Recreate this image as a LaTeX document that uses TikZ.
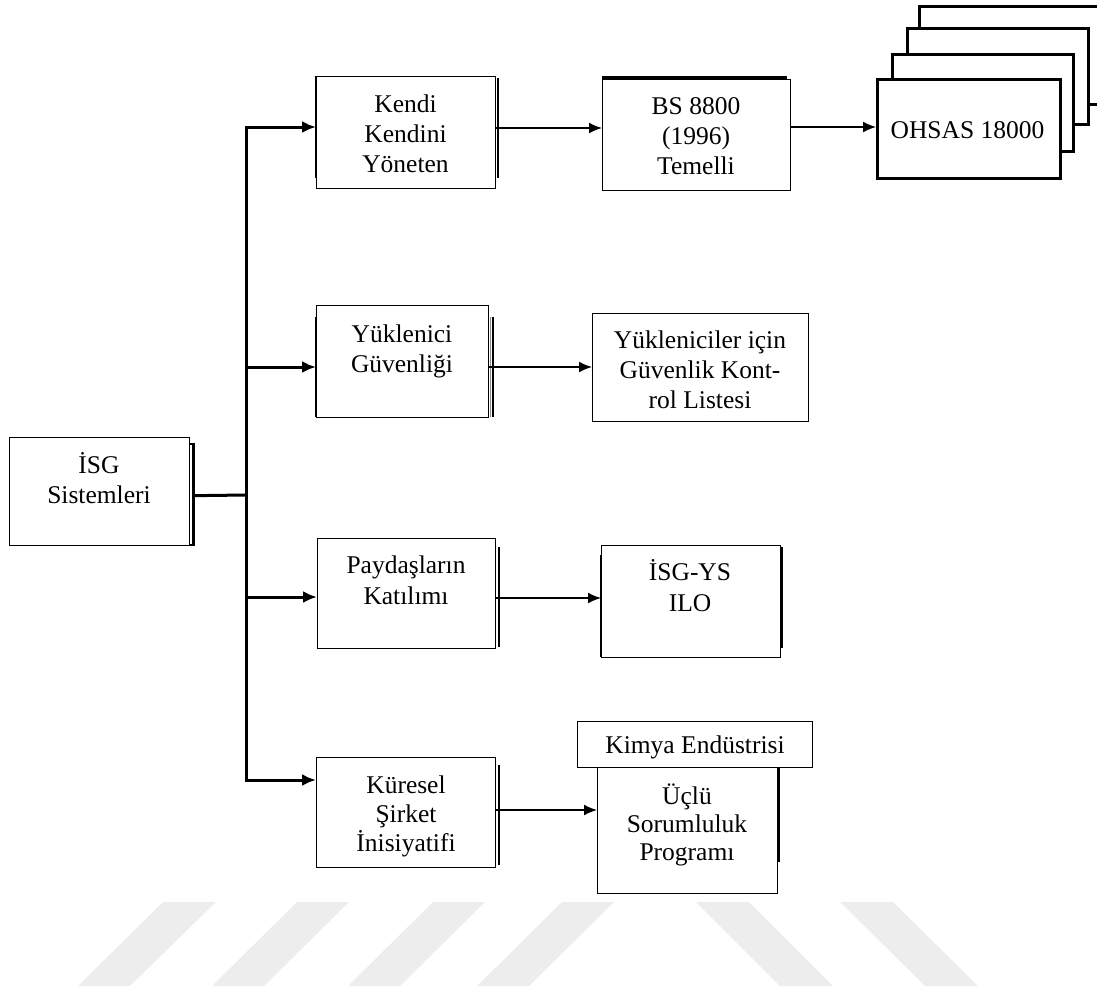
\documentclass[tikz,border=0pt]{standalone}
\usepackage{fontspec}
\setmainfont{Liberation Serif}
\usetikzlibrary{arrows.meta,calc}
\begin{document}
\begin{tikzpicture}[x=1pt,y=-1pt,
  box/.style={draw=black, line width=1.3pt, fill=white, inner sep=0pt, anchor=north west, rectangle},
  stackbox/.style={box, line width=3pt},
  txt/.style={align=center, inner sep=0pt, font=\fontsize{25.5}{30}\selectfont, anchor=base},
  thickln/.style={line width=3pt},
  shade/.style={line width=2.8pt},
  main/.style={line width=3pt, -{Latex[length=14pt,width=12pt]}},
  link/.style={line width=1.6pt, -{Latex[length=13pt,width=11pt]}},
  wm/.style={fill=black!7, draw=none}]
\useasboundingbox (0,0) rectangle (1097,986);

% watermark
\fill[wm] (163,902) -- (216,902) -- (130,986) -- (78,986) -- cycle;
\fill[wm] (297,902) -- (349,902) -- (264,986) -- (212,986) -- cycle;
\fill[wm] (433,902) -- (485,902) -- (400,986) -- (348,986) -- cycle;
\fill[wm] (562,902) -- (614,902) -- (529,986) -- (477,986) -- cycle;
\fill[wm] (696,902) -- (749,902) -- (833,986) -- (780,986) -- cycle;
\fill[wm] (840,902) -- (893,902) -- (978,986) -- (925,986) -- cycle;

% boxes
\node[box, minimum width=180pt, minimum height=108pt] (isg) at (9,437) {};
\node[box, minimum width=179pt, minimum height=112pt] (k1) at (316,76) {};
\node[box, minimum width=188pt, minimum height=111pt] (bs) at (602,79) {};
\node[stackbox, minimum width=187pt, minimum height=98pt] (oh4) at (918,5) {};
\node[stackbox, minimum width=181pt, minimum height=96pt] (oh3) at (906,27) {};
\node[stackbox, minimum width=181pt, minimum height=97pt] (oh2) at (891,53) {};
\node[stackbox, minimum width=183pt, minimum height=99pt] (oh1) at (876,78) {};
\node[box, minimum width=172pt, minimum height=112pt] (y1) at (316,305) {};
\node[box, minimum width=216pt, minimum height=108pt] (y2) at (592,313) {};
\node[box, minimum width=178pt, minimum height=110pt] (p1) at (317,538) {};
\node[box, minimum width=179pt, minimum height=112pt] (p2) at (601,545) {};
\node[box, minimum width=179pt, minimum height=110pt] (k4) at (316,757) {};
\node[box, minimum width=180pt, minimum height=126pt] (u1) at (597,767) {};
\node[box, minimum width=235pt, minimum height=46pt] (km) at (577,721) {};

% shadow edges
\draw[shade] (189,444) -- (193.5,444) -- (193.5,545) -- (189,545);
\draw[shade] (316,76) -- (316,178);
\draw[shade] (498,78) -- (498,178);
\draw[shade] (602,77.5) -- (787,77.5);
\draw[shade] (316,317) -- (316,417);
\draw[line width=1.5pt, black!45] (490.5,317) -- (490.5,417);
\draw[line width=2pt] (493,317) -- (493,417);
\draw[shade] (499,547) -- (499,647);
\draw[shade] (782,547) -- (782,648);
\draw[line width=2pt] (601,555) -- (601,657);
\draw[line width=2.5pt] (499,765) -- (499,865);
\draw[shade] (779,768) -- (779,862);

% texts (anchor = baseline of the last line)
\node[txt] (isgt) at (99,503) {İSG\\Sistemleri};
\node[txt] (k1t) at (405.5,172) {Kendi\\Kendini\\Yöneten};
\node[txt] (bst) at (696,174) {BS 8800\\(1996)\\Temelli};
\node[txt] (oh1t) at (967.5,138) {OHSAS 18000};
\node[txt] (y1t) at (402,372) {Yüklenici\\Güvenliği};
\node[txt] (y2t) at (700,408) {Yükleniciler için\\Güvenlik Kont-\\rol Listesi};
\node[txt, font=\fontsize{25.5}{31}\selectfont] (p1t) at (406,604) {Paydaşların\\Katılımı};
\node[txt, font=\fontsize{25.5}{31}\selectfont] (p2t) at (690,611) {İSG-YS\\ILO};
\node[txt] (kmt) at (695,753) {Kimya Endüstrisi};
\node[txt, font=\fontsize{25.5}{28}\selectfont] (u1t) at (687,860) {Üçlü\\Sorumluluk\\Programı};
\node[txt, font=\fontsize{25.5}{29}\selectfont] (k4t) at (406,851) {Küresel\\Şirket\\İnisiyatifi};

% bus and connectors
\coordinate (bj) at (246,495);
\coordinate (btop) at (246,127);
\coordinate (b2) at (246,367);
\coordinate (b3) at (246,597);
\coordinate (bbot) at (246,780);
\draw[thickln] ($(isg.east)+(4,4)$) -- (bj);
\draw[main] (bbot) -- (btop) -- (k1.west |- btop);
\draw[main] (btop) -- (bbot) -- (k4.west |- bbot);
\draw[main] (b2) -- (y1.west |- b2);
\draw[main] (b3) -- (p1.west |- b3);

\coordinate (r1) at (0,128);
\coordinate (r2) at (0,127);
\coordinate (r3) at (0,367);
\coordinate (r4) at (0,598);
\coordinate (r5) at (0,810);
\draw[link] (k1.east |- r1) -- (bs.west |- r1);
\draw[link] (bs.east |- r2) -- (oh1.west |- r2);
\draw[link] (y1.east |- r3) -- (y2.west |- r3);
\draw[link] (p1.east |- r4) -- (p2.west |- r4);
\draw[link] (k4.east |- r5) -- (u1.west |- r5);
\end{tikzpicture}
\end{document}
